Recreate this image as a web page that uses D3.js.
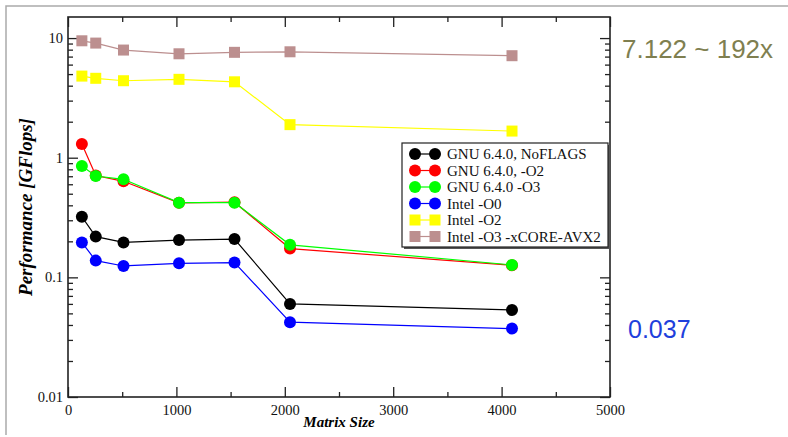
<!DOCTYPE html>
<html>
<head>
<meta charset="utf-8">
<script src="https://cdn.jsdelivr.net/npm/d3@7"></script>
<style>
  body { margin: 0; background: #fff; }
  svg { display: block; }
</style>
</head>
<body>
<script>
// matrix sizes (x axis)
var sizes = [128, 256, 512, 1024, 1536, 2048, 4096];
// GFlops per compiler setting
var gnuNoFlags = [0.321, 0.219, 0.196, 0.205, 0.209, 0.060, 0.0534];
var gnuO2 = [1.30, 0.71, 0.635, 0.42, 0.425, 0.174, 0.126];
var gnuO3 = [0.852, 0.703, 0.660, 0.421, 0.421, 0.187, 0.127];
var intelO0 = [0.196, 0.138, 0.1245, 0.131, 0.133, 0.0422, 0.0373];
var intelO2 = [4.81, 4.61, 4.40, 4.52, 4.31, 1.89, 1.67];
var intelO3 = [9.49, 9.08, 7.94, 7.39, 7.6, 7.68, 7.122];
var seriesNames = ['GNU 6.4.0, NoFLAGS', 'GNU 6.4.0, -O2', 'GNU 6.4.0 -O3', 'Intel -O0', 'Intel -O2', 'Intel -O3 -xCORE-AVX2'];
var xTicks = [0, 1000, 2000, 3000, 4000, 5000];
var yTicks = [0.01, 0.1, 1, 10];

var series = [
  { name: seriesNames[0], values: gnuNoFlags, color: '#000000', shape: 'circle' },
  { name: seriesNames[1], values: gnuO2, color: '#ff0000', shape: 'circle' },
  { name: seriesNames[2], values: gnuO3, color: '#00ff00', shape: 'circle' },
  { name: seriesNames[3], values: intelO0, color: '#0000ff', shape: 'circle' },
  { name: seriesNames[4], values: intelO2, color: '#ffff00', shape: 'square' },
  { name: seriesNames[5], values: intelO3, color: '#bc8f8f', shape: 'square' }
];

var width = 788, height = 437;
var plot = { left: 68, right: 610, top: 17, bottom: 397 };

var svg = d3.select('body').append('svg')
  .attr('width', width)
  .attr('height', height);

// slide border (top + left)
svg.append('path')
  .attr('d', 'M6,435 L6,6 L788,6')
  .attr('fill', 'none')
  .attr('stroke', '#aaaaaa')
  .attr('stroke-width', 1.5);

var x = d3.scaleLinear().domain([0, 5000]).range([plot.left, plot.right]);
var y = d3.scaleLog().domain([0.01, 15]).range([plot.bottom, plot.top]);

var g = svg.append('g').attr('font-family', '"Liberation Serif", "Times New Roman", serif');

// minor ticks
var xMinor = d3.range(500, 5000, 1000);
var yMinor = [];
[0.01, 0.1, 1, 10].forEach(function (d) {
  for (var k = 2; k <= 9; k++) {
    if (d * k <= 15) yMinor.push(d * k);
  }
});

// axes with inward ticks
var axisB = g.append('g').attr('transform', 'translate(0,' + plot.bottom + ')')
  .call(d3.axisBottom(x).tickValues(xTicks).tickSize(-10).tickPadding(4).tickFormat(d3.format('d')));
g.append('g').attr('transform', 'translate(0,' + plot.top + ')')
  .call(d3.axisTop(x).tickValues(xTicks).tickSize(-10).tickFormat(''));
g.append('g').attr('transform', 'translate(' + plot.left + ',0)')
  .call(d3.axisLeft(y).tickValues(yTicks).tickSize(-10).tickPadding(5).tickFormat(function (d) { return String(d); }));
g.append('g').attr('transform', 'translate(' + plot.right + ',0)')
  .call(d3.axisRight(y).tickValues(yTicks).tickSize(-10).tickFormat(''));

g.append('g').attr('transform', 'translate(0,' + plot.bottom + ')')
  .call(d3.axisBottom(x).tickValues(xMinor).tickSize(-5).tickFormat(''));
g.append('g').attr('transform', 'translate(0,' + plot.top + ')')
  .call(d3.axisTop(x).tickValues(xMinor).tickSize(-5).tickFormat(''));
g.append('g').attr('transform', 'translate(' + plot.left + ',0)')
  .call(d3.axisLeft(y).tickValues(yMinor).tickSize(-5).tickFormat(''));
g.append('g').attr('transform', 'translate(' + plot.right + ',0)')
  .call(d3.axisRight(y).tickValues(yMinor).tickSize(-5).tickFormat(''));

g.selectAll('.domain').remove();
g.selectAll('.tick line').attr('stroke', '#222').attr('stroke-width', 1.3);
g.selectAll('.tick text')
  .attr('font-family', '"Liberation Serif", "Times New Roman", serif')
  .attr('font-size', 14.5)
  .attr('fill', '#111');
axisB.selectAll('.tick text').attr('dy', '0.95em');

// frame
g.append('rect')
  .attr('x', plot.left).attr('y', plot.top)
  .attr('width', plot.right - plot.left).attr('height', plot.bottom - plot.top)
  .attr('fill', 'none').attr('stroke', '#222').attr('stroke-width', 1.6);

// axis titles
g.append('text')
  .attr('transform', 'translate(32,207) rotate(-90)')
  .attr('text-anchor', 'middle')
  .attr('font-size', 19)
  .attr('font-weight', 'bold').attr('font-style', 'italic')
  .text('Performance [GFlops]');
g.append('text')
  .attr('x', 339).attr('y', 427)
  .attr('text-anchor', 'middle')
  .attr('font-size', 15)
  .attr('font-weight', 'bold').attr('font-style', 'italic')
  .text('Matrix Size');

// series
var line = d3.line().x(function (d) { return x(d[0]); }).y(function (d) { return y(d[1]); });

function drawMarker(sel, s, cx, cy, r) {
  if (s.shape === 'circle') {
    sel.append('circle').attr('cx', cx).attr('cy', cy).attr('r', r).attr('fill', s.color);
  } else {
    sel.append('rect').attr('x', cx - r + 0.5).attr('y', cy - r + 0.5)
      .attr('width', 2 * r - 1).attr('height', 2 * r - 1).attr('fill', s.color);
  }
}

series.forEach(function (s) {
  var pts = sizes.map(function (d, i) { return [d, s.values[i]]; });
  var sg = g.append('g');
  sg.append('path')
    .attr('d', line(pts))
    .attr('fill', 'none')
    .attr('stroke', s.color)
    .attr('stroke-width', 1.2);
  pts.forEach(function (p) { drawMarker(sg, s, x(p[0]), y(p[1]), 6); });
});

// legend
var lg = g.append('g');
var lx = 402, ly = 143, lw = 206, lh = 104;
lg.append('rect').attr('x', lx + 2).attr('y', ly + 2).attr('width', lw).attr('height', lh).attr('fill', '#555');
lg.append('rect').attr('x', lx).attr('y', ly).attr('width', lw).attr('height', lh)
  .attr('fill', '#fff').attr('stroke', '#222').attr('stroke-width', 1.2);
series.forEach(function (s, i) {
  var ry = 154 + i * 16.5;
  lg.append('line').attr('x1', 415).attr('x2', 435).attr('y1', ry).attr('y2', ry)
    .attr('stroke', s.color).attr('stroke-width', 1.2);
  drawMarker(lg, s, 415, ry, 6);
  drawMarker(lg, s, 435, ry, 6);
  lg.append('text').attr('x', 447).attr('y', ry).attr('dy', '0.35em')
    .attr('font-size', 15).attr('fill', '#111').text(s.name);
});

// annotations
svg.append('text')
  .attr('x', 622).attr('y', 58)
  .attr('font-family', '"Liberation Sans", Arial, sans-serif')
  .attr('font-size', 26).attr('fill', '#7f7f50')
  .text('7.122 ~ 192x');
svg.append('text')
  .attr('x', 628).attr('y', 338)
  .attr('font-family', '"Liberation Sans", Arial, sans-serif')
  .attr('font-size', 25).attr('fill', '#1e40dc')
  .text('0.037');
</script>
</body>
</html>
